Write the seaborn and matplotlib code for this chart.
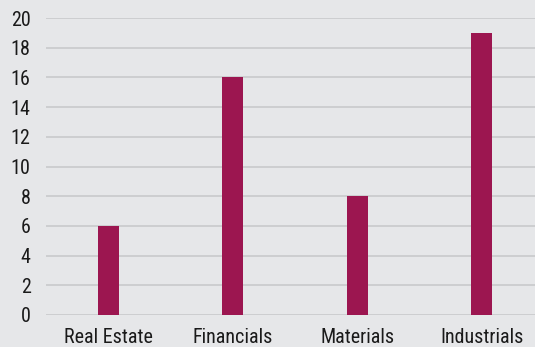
import matplotlib
matplotlib.use("Agg")
import matplotlib.pyplot as plt
import seaborn as sns
import pandas as pd
from matplotlib import font_manager

sectors = ["Real Estate", "Financials", "Materials", "Industrials"]
counts = [6, 16, 8, 19]
y_ticks = [0, 2, 4, 6, 8, 10, 12, 14, 16, 18, 20]

bg = "#e6e7e9"
bar_color = "#9c1650"
grid_color = "#c9cacc"

sns.set_theme(style="white")
names = {f.name for f in font_manager.fontManager.ttflist}
family = "Roboto Condensed" if "Roboto Condensed" in names else "Roboto"
plt.rcParams["font.family"] = [family, "DejaVu Sans"]

df = pd.DataFrame({"sector": sectors, "count": counts})

fig = plt.figure(figsize=(5.35, 3.47), dpi=100, facecolor=bg)
ax = fig.add_axes([46 / 535, (347 - 315) / 347, 498 / 535, (315 - 18) / 347])
ax.set_facecolor(bg)

sns.barplot(data=df, x="sector", y="count", color=bar_color, width=0.17,
            saturation=1, linewidth=0, ax=ax, zorder=3)

ax.set_xlim(-0.5, 3.5)
ax.set_ylim(0, 20)
ax.set_yticks(y_ticks)
ax.yaxis.grid(True, color=grid_color, linewidth=1.2, zorder=0)
ax.set_axisbelow(True)
for s in ax.spines.values():
    s.set_visible(False)
ax.set_xlabel("")
ax.set_ylabel("")
ax.tick_params(axis="both", length=0, labelsize=14.4, colors="#1a1a1a")
ax.tick_params(axis="y", pad=11)
ax.tick_params(axis="x", pad=9.5)
for lbl in ax.get_yticklabels():
    lbl.set_horizontalalignment("right")

fig.savefig("out.png", dpi=100, facecolor=bg)
